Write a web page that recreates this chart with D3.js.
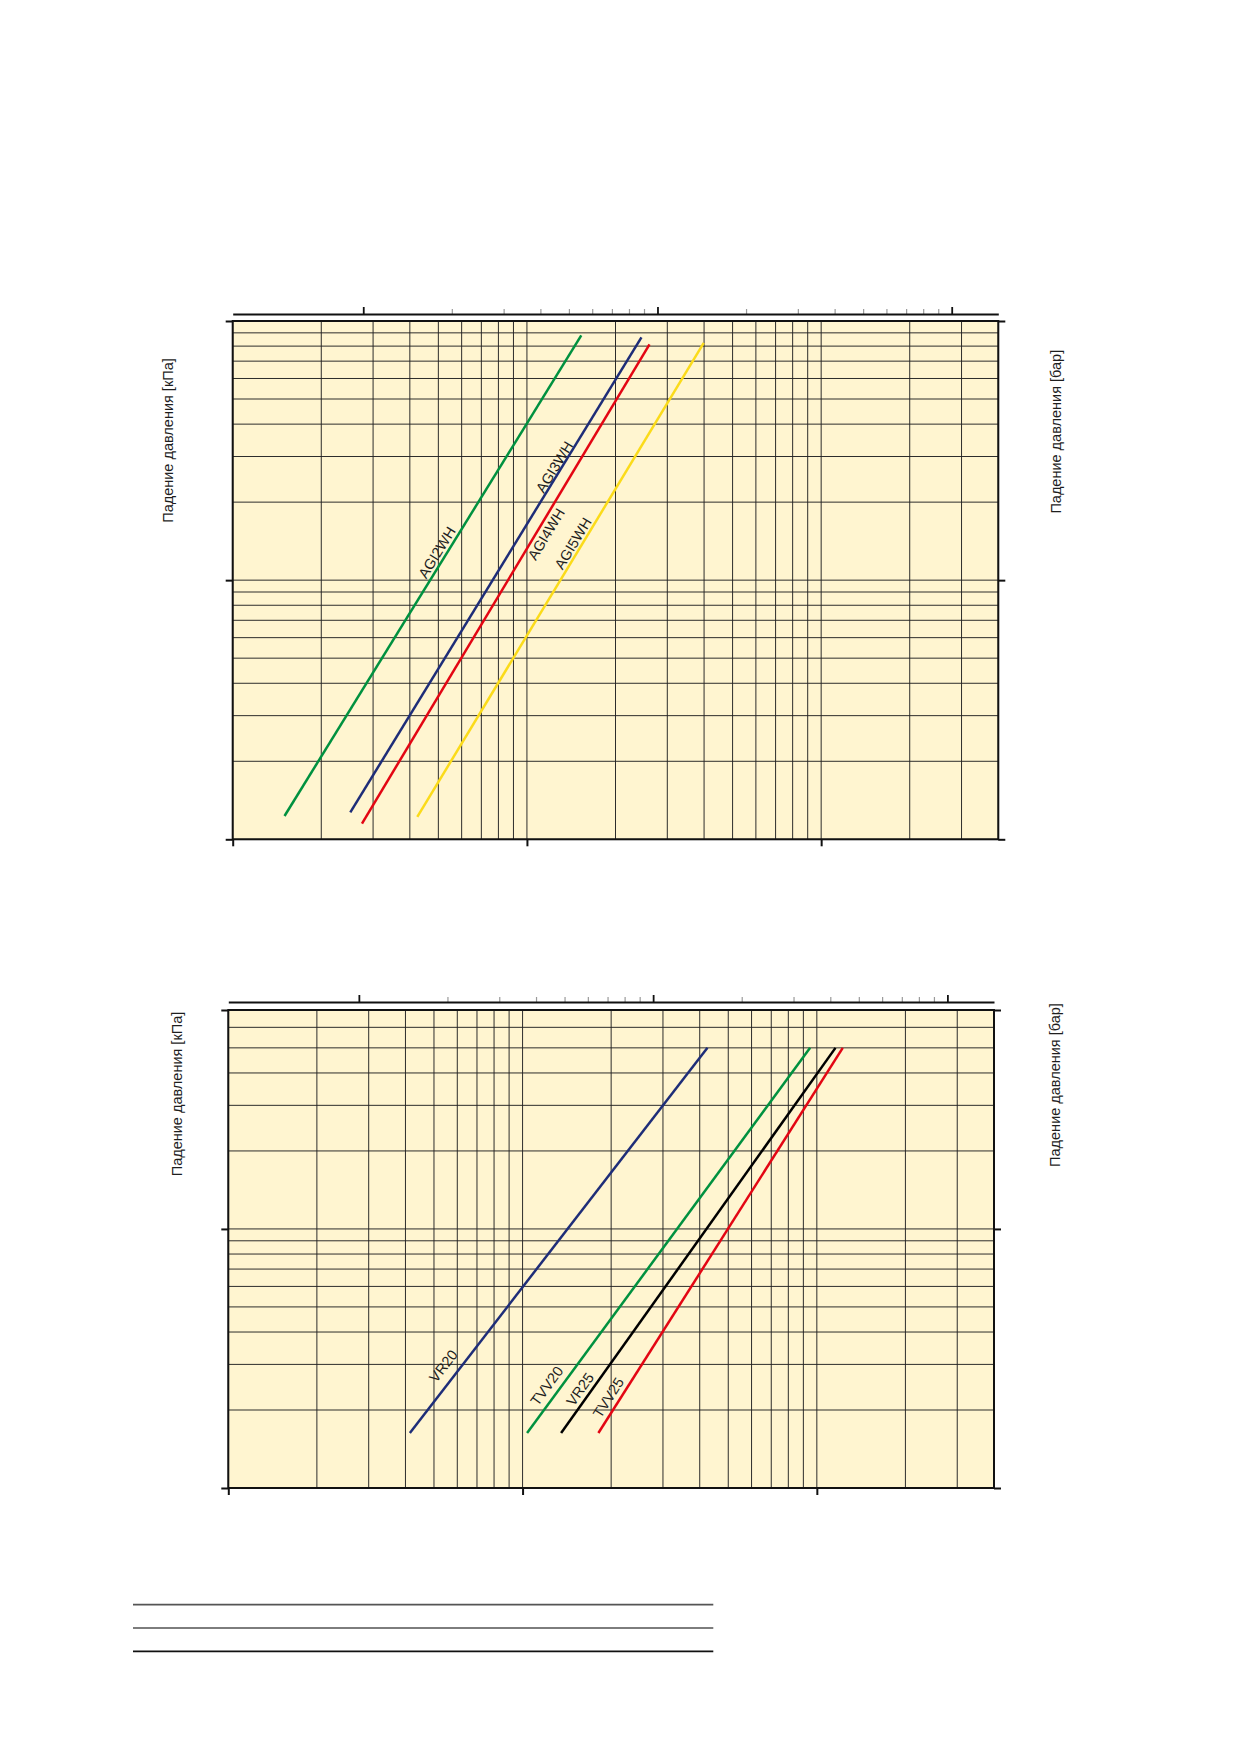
<!DOCTYPE html>
<html>
<head>
<meta charset="utf-8">
<script src="https://cdn.jsdelivr.net/npm/d3@7/dist/d3.min.js"></script>
<style>
  html, body { margin: 0; padding: 0; background: #fff; }
  svg { display: block; }
  text { font-family: "Liberation Sans", Arial, Helvetica, sans-serif; fill: #1e1e1e; }
</style>
</head>
<body>
<svg id="chart" width="1239" height="1752"></svg>
<script>
// ---------------- DATA ----------------
// Flow (bottom axis, l/s) and its equivalent on the top axis (m³/h)
const flowDomain = [0.01, 4];
const LPS_TO_M3H = 3.6;
const topMajorTicks = [0.1, 1, 10];
const topMinorTicks = [0.2, 0.3, 0.4, 0.5, 0.6, 0.7, 0.8, 0.9, 2, 3, 4, 5, 6, 7, 8, 9];
const bottomTicks = [0.01, 0.1, 1];

// Pressure drop (kPa); right axis in bar (same decades)
const dpDomain1 = [1, 100];
const dpDomain2 = [1, 70];
const dpTicks1 = [1, 10, 100];
const dpTicks2 = [1, 10, 70];

const yTitleLeft = "Падение давления [кПа]";
const yTitleRight = "Падение давления [бар]";

// Chart 1 series
const names1 = ["AGI2WH", "AGI3WH", "AGI4WH", "AGI5WH"];
const flow1 = [[0.0150, 0.153], [0.0251, 0.245], [0.0275, 0.261], [0.0424, 0.399]];
const dp1 = [[1.23, 88.0], [1.27, 86.5], [1.15, 81.3], [1.22, 82.3]];
const colors1 = ["#00913f", "#1e2d78", "#e30613", "#fbdb1a"];

// Chart 2 series
const names2 = ["VR20", "TVV20", "VR25", "TVV25"];
const flow2 = [[0.0414, 0.425], [0.1036, 0.949], [0.1352, 1.157], [0.181, 1.225]];
const dp2 = [[1.63, 50], [1.63, 50], [1.63, 50], [1.63, 50]];
const colors2 = ["#1e2d78", "#00913f", "#000000", "#e30613"];

// ---------------- LAYOUT ----------------
const svg = d3.select("#chart");

const chart1 = {
  left: 232.7, right: 998.3, top: 321, bottom: 839.3,
  yDomain: dpDomain1, yTicks: dpTicks1,
  names: names1, flow: flow1, dp: dp1, colors: colors1,
  // label placement: fraction along line, perpendicular offset (px, + = upper-left)
  labels: [[0.5385, 8.7], [0.720, 6.3], [0.6135, -9.2], [0.568, 8.2]],
  leftTitle: [168.3, 440.5], rightTitle: [1056, 431.7],
  topGap: 7
};
const chart2 = {
  left: 228.3, right: 994, top: 1010, bottom: 1488,
  yDomain: dpDomain2, yTicks: dpTicks2,
  names: names2, flow: flow2, dp: dp2, colors: colors2,
  labels: [[0.151, 14.4], [0.1037, 12], [0.0986, 9.9], [0.0773, 10.5]],
  leftTitle: [176.7, 1094], rightTitle: [1055, 1085],
  topGap: 8
};

function drawChart(c) {
  const g = svg.append("g");
  const x = d3.scaleLog().domain(flowDomain).range([c.left, c.right]);
  const xTop = d3.scaleLog().domain(flowDomain.map(v => v * LPS_TO_M3H)).range([c.left, c.right]);
  const y = d3.scaleLog().domain(c.yDomain).range([c.bottom, c.top]);
  const yRight = d3.scaleLog().domain(c.yDomain.map(v => v / 100)).range([c.bottom, c.top]);

  // background
  g.append("rect")
    .attr("x", c.left).attr("y", c.top)
    .attr("width", c.right - c.left).attr("height", c.bottom - c.top)
    .attr("fill", "#fff5d0");

  // grid
  const grid = g.append("g").attr("stroke", "#222").attr("stroke-width", 0.95);
  grid.selectAll("line.v").data(x.ticks()).join("line")
    .attr("class", "v")
    .attr("x1", d => x(d)).attr("x2", d => x(d))
    .attr("y1", c.top).attr("y2", c.bottom);
  grid.selectAll("line.h").data(y.ticks()).join("line")
    .attr("class", "h")
    .attr("x1", c.left).attr("x2", c.right)
    .attr("y1", d => y(d)).attr("y2", d => y(d));

  // frame
  g.append("rect")
    .attr("x", c.left).attr("y", c.top)
    .attr("width", c.right - c.left).attr("height", c.bottom - c.top)
    .attr("fill", "none").attr("stroke", "#111").attr("stroke-width", 2);

  const noLabel = () => "";
  // left axis ticks
  g.append("g").attr("transform", `translate(${c.left},0)`)
    .call(d3.axisLeft(y).tickValues(c.yTicks).tickSize(7).tickSizeOuter(0).tickFormat(noLabel))
    .call(s => s.select(".domain").remove())
    .call(s => s.selectAll("line").attr("stroke", "#111").attr("stroke-width", 2));
  // right axis ticks (bar)
  g.append("g").attr("transform", `translate(${c.right},0)`)
    .call(d3.axisRight(yRight).tickValues(c.yTicks.map(v => v / 100)).tickSize(7).tickSizeOuter(0).tickFormat(noLabel))
    .call(s => s.select(".domain").remove())
    .call(s => s.selectAll("line").attr("stroke", "#111").attr("stroke-width", 2));
  // bottom axis ticks
  g.append("g").attr("transform", `translate(0,${c.bottom})`)
    .call(d3.axisBottom(x).tickValues(bottomTicks).tickSize(7).tickSizeOuter(0).tickFormat(noLabel))
    .call(s => s.select(".domain").remove())
    .call(s => s.selectAll("line").attr("stroke", "#111").attr("stroke-width", 2));

  // top axis (m³/h)
  const ty = c.top - c.topGap;
  g.append("g").attr("transform", `translate(0,${ty})`)
    .call(d3.axisTop(xTop).tickValues(topMinorTicks).tickSize(5).tickSizeOuter(0).tickFormat(noLabel))
    .call(s => s.select(".domain").remove())
    .call(s => s.selectAll("line").attr("stroke", "#9a9a9a").attr("stroke-width", 1.2));
  g.append("g").attr("transform", `translate(0,${ty})`)
    .call(d3.axisTop(xTop).tickValues(topMajorTicks).tickSize(7).tickSizeOuter(0).tickFormat(noLabel))
    .call(s => s.select(".domain").attr("stroke", "#111").attr("stroke-width", 2))
    .call(s => s.selectAll("line").attr("stroke", "#111").attr("stroke-width", 1.8));

  // series
  const line = d3.line().x(d => x(d[0])).y(d => y(d[1]));
  c.names.forEach((name, i) => {
    const pts = c.flow[i].map((f, j) => [f, c.dp[i][j]]);
    g.append("path").datum(pts)
      .attr("d", line)
      .attr("fill", "none")
      .attr("stroke", c.colors[i])
      .attr("stroke-width", 2.5);

    const x0 = x(pts[0][0]), y0 = y(pts[0][1]);
    const x1 = x(pts[1][0]), y1 = y(pts[1][1]);
    const [t, off] = c.labels[i];
    const ang = Math.atan2(y1 - y0, x1 - x0); // negative (upward)
    // perpendicular toward upper-left
    const nx = Math.sin(ang), ny = -Math.cos(ang);
    const px = x0 + (x1 - x0) * t + nx * off;
    const py = y0 + (y1 - y0) * t + ny * off;
    g.append("text")
      .attr("transform", `translate(${px},${py}) rotate(${ang * 180 / Math.PI})`)
      .attr("text-anchor", "middle")
      .attr("dominant-baseline", "central")
      .attr("font-size", 14.5)
      .text(name);
  });

  // axis titles
  g.append("text")
    .attr("transform", `translate(${c.leftTitle[0]},${c.leftTitle[1]}) rotate(-90)`)
    .attr("text-anchor", "middle").attr("dominant-baseline", "central")
    .attr("font-size", 14.5).text(yTitleLeft);
  g.append("text")
    .attr("transform", `translate(${c.rightTitle[0]},${c.rightTitle[1]}) rotate(-90)`)
    .attr("text-anchor", "middle").attr("dominant-baseline", "central")
    .attr("font-size", 14.5).text(yTitleRight);
}

drawChart(chart1);
drawChart(chart2);

// footer rules
const footerRules = [{ c: "#555", w: 1.8 }, { c: "#7d7d7d", w: 2 }, { c: "#111", w: 1.8 }];
const footerY = d3.scaleLinear().domain([0, 2]).range([1604.7, 1651.3]);
svg.append("g").selectAll("line").data(footerRules).join("line")
  .attr("x1", 133).attr("x2", 713.3)
  .attr("y1", (d, i) => footerY(i)).attr("y2", (d, i) => footerY(i))
  .attr("stroke", d => d.c).attr("stroke-width", d => d.w);
</script>
</body>
</html>
